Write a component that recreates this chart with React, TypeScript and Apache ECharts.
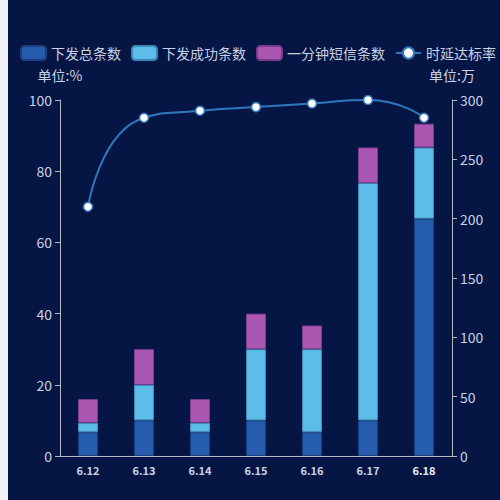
import { useEffect, useRef } from "react";
import * as echarts from "echarts";

const days = ["6.12", "6.13", "6.14", "6.15", "6.16", "6.17", "6.18"];
// 单位:万
const totalSent = [20, 30, 20, 30, 20, 30, 200];
const successSent = [8, 30, 8, 60, 70, 200, 60];
const minuteSms = [20, 30, 20, 30, 20, 30, 20];
// 单位:%
const onTimeRate = [70, 95, 97, 98, 99, 100, 95];

const labelColor = "#c8d2e6";
const axisColor = "#b4b9c4";

export default function App() {
  const ref = useRef<HTMLDivElement>(null);

  useEffect(() => {
    if (!ref.current) return;
    const chart = echarts.init(ref.current, undefined, { renderer: "svg" });

    chart.setOption({
      backgroundColor: "#061644",
      animation: false,
      textStyle: { fontFamily: "'Noto Sans CJK SC', 'Noto Sans', sans-serif" },
      legend: {
        top: 40,
        left: "center",
        itemWidth: 25,
        itemHeight: 14,
        itemGap: 10,
        textStyle: { color: labelColor, fontSize: 14 },
        data: [
          { name: "下发总条数", icon: "roundRect" },
          { name: "下发成功条数", icon: "roundRect" },
          { name: "一分钟短信条数", icon: "roundRect" },
          { name: "时延达标率" },
        ],
      },
      grid: { left: 52, right: 56, top: 100, bottom: 44 },
      xAxis: {
        type: "category",
        data: days,
        axisLine: { lineStyle: { color: axisColor } },
        axisTick: { lineStyle: { color: axisColor } },
        axisLabel: {
          interval: 0,
          color: labelColor,
          fontSize: 11,
          fontWeight: "bold",
          margin: 8,
          formatter: (v: string, i: number) => (i === days.length - 1 ? `{last|${v}}` : v),
          rich: { last: { color: "#e8eef8", fontSize: 11, fontWeight: "bold" } },
        },
      },
      yAxis: [
        {
          type: "value",
          name: "单位:%",
          nameGap: 18,
          nameTextStyle: { color: labelColor, fontSize: 14, align: "center" },
          min: 0,
          max: 100,
          interval: 20,
          axisLine: { show: true, lineStyle: { color: axisColor } },
          axisTick: { show: true, lineStyle: { color: axisColor } },
          axisLabel: { color: labelColor, fontSize: 14 },
          splitLine: { show: false },
        },
        {
          type: "value",
          name: "单位:万",
          nameGap: 18,
          nameTextStyle: { color: labelColor, fontSize: 14, align: "center" },
          min: 0,
          max: 300,
          interval: 50,
          axisLine: { show: true, lineStyle: { color: axisColor } },
          axisTick: { show: true, lineStyle: { color: axisColor } },
          axisLabel: { color: labelColor, fontSize: 14 },
          splitLine: { show: false },
        },
      ],
      series: [
        {
          name: "下发总条数",
          type: "bar",
          stack: "sms",
          yAxisIndex: 1,
          barWidth: 20,
          data: totalSent,
          itemStyle: { color: "#265cae", borderColor: "#1e3f7e", borderWidth: 1 },
        },
        {
          name: "下发成功条数",
          type: "bar",
          stack: "sms",
          yAxisIndex: 1,
          barWidth: 20,
          data: successSent,
          itemStyle: { color: "#5cbde9", borderColor: "#3f86b8", borderWidth: 1 },
        },
        {
          name: "一分钟短信条数",
          type: "bar",
          stack: "sms",
          yAxisIndex: 1,
          barWidth: 20,
          data: minuteSms,
          itemStyle: { color: "#aa57b2", borderColor: "#7a3c8c", borderWidth: 1 },
        },
        {
          name: "时延达标率",
          type: "line",
          yAxisIndex: 0,
          smooth: 0.6,
          symbol: "circle",
          symbolSize: 9,
          data: onTimeRate,
          lineStyle: { color: "#2f78be", width: 2 },
          itemStyle: { color: "#ffffff", borderColor: "#2f78be", borderWidth: 1.5 },
        },
      ],
    });

    return () => chart.dispose();
  }, []);

  return (
    <div style={{ position: "fixed", inset: 0, background: "#f0f2f6", overflow: "hidden" }}>
      <div ref={ref} style={{ position: "absolute", left: 8, top: 0, width: 500, height: 500 }} />
    </div>
  );
}
